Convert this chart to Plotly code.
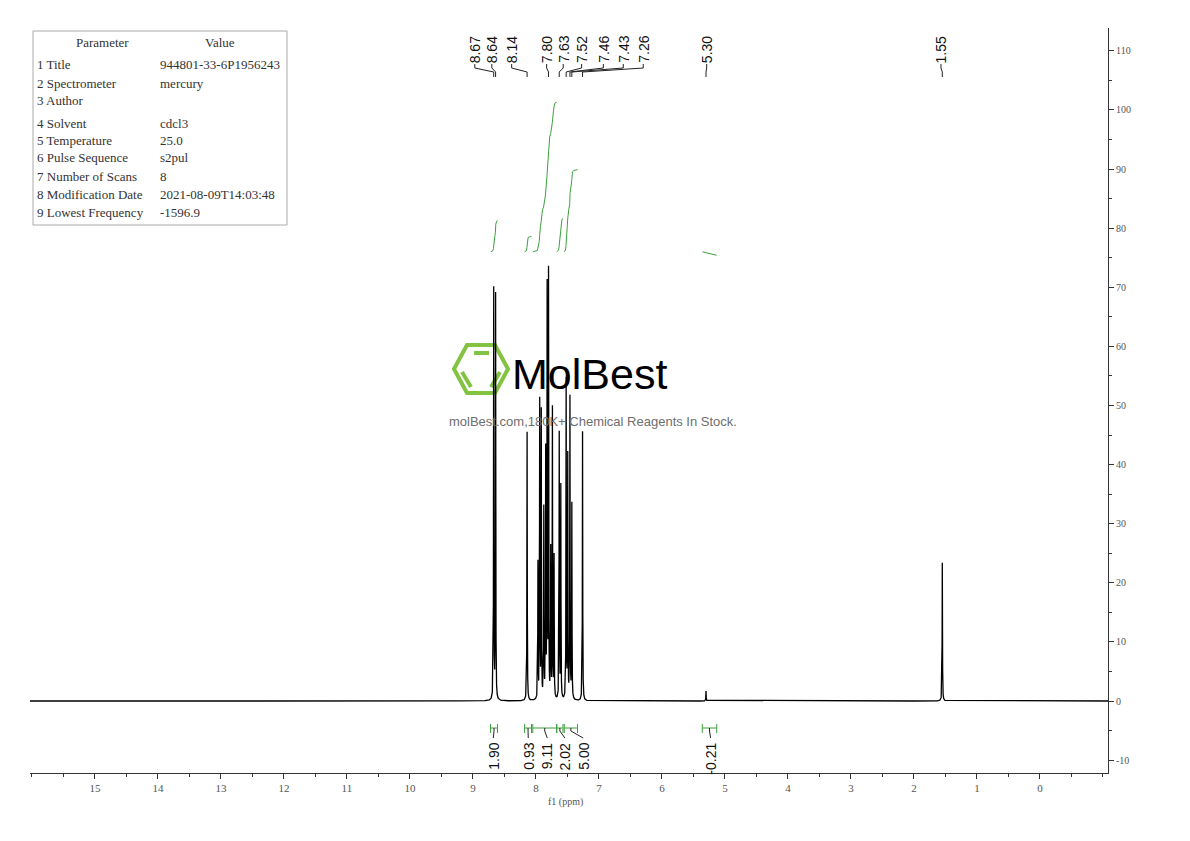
import numpy as np
import plotly.graph_objects as go

# ---------------- data ----------------
peak_ppm = [8.670, 8.640, 8.140, 7.968, 7.940, 7.915, 7.875, 7.845, 7.822, 7.800,
            7.765, 7.738, 7.712, 7.630, 7.605, 7.520, 7.495, 7.460, 7.430, 7.260,
            5.300, 1.550]
peak_height = [69.5, 68.5, 45.5, 23.0, 50.3, 48.5, 32.0, 41.5, 69.0, 71.7,
               25.0, 49.0, 24.0, 45.0, 36.0, 54.0, 41.0, 51.0, 33.0, 45.6,
               1.7, 23.4]
peak_labels = ["8.67", "8.64", "8.14", "7.80", "7.63", "7.52", "7.46", "7.43",
               "7.26", "5.30", "1.55"]
integral_start = [8.72, 8.18, 8.05, 7.67, 7.55, 5.36]
integral_end = [8.61, 8.07, 7.67, 7.57, 7.34, 5.13]
integral_values = [1.90, 0.93, 9.11, 2.02, 5.00, -0.21]
x_ticks = list(range(0, 16))
y_ticks = list(range(-10, 111, 10))
param_names = ["1 Title", "2 Spectrometer", "3 Author", "4 Solvent", "5 Temperature",
               "6 Pulse Sequence", "7 Number of Scans", "8 Modification Date",
               "9 Lowest Frequency"]
param_values = ["944801-33-6P1956243", "mercury", "", "cdcl3", "25.0", "s2pul", "8",
                "2021-08-09T14:03:48", "-1596.9"]

# ---------------- layout constants ----------------
BODY = 8                                    # page body margin of the html
W, H = 1190 - 2 * BODY, 841 - 2 * BODY
PL, PR, PT, PB = 30, 1108, 28, 773          # plot area in page pixels
X_RANGE = [16.03, -1.08]
Y_RANGE = [-12.18, 113.87]
LINE_W = 0.003                              # peak half width (ppm)
INT_BASE = 76.0                             # integral curves baseline
INT_SCALE = 2.78                            # curve height per integral unit
label_x_ppm = [8.97, 8.70, 8.385, 7.83, 7.567, 7.275, 6.93, 6.614, 6.297, 5.29, 1.571]
int_label_x_ppm = [8.677, 8.122, 7.82, 7.54, 7.25, 5.227]
row_y_px = [64.7, 83, 100.7, 123, 140.7, 158, 176.3, 194.7, 212.3]
GREEN = "rgb(60,160,60)"
SERIF = "Liberation Serif, DejaVu Serif, serif"
SANS = "Liberation Sans, Arial, sans-serif"


def px_x(px):
    return (px - PL) / (PR - PL)


def px_y(py):
    return (PB - py) / (PB - PT)


def y_of_px(py):
    return Y_RANGE[0] + (PB - py) / (PB - PT) * (Y_RANGE[1] - Y_RANGE[0])


# ---------------- spectrum ----------------
coarse = np.arange(-1.1, 16.1, 0.004)
fine = np.concatenate([np.arange(p - 0.04, p + 0.04, 0.0004) for p in peak_ppm])
x = np.unique(np.concatenate([coarse, fine, np.array(peak_ppm)]))
spec = np.zeros_like(x)
for p, h in zip(peak_ppm, peak_height):
    spec += h / (1.0 + ((x - p) / LINE_W) ** 2)

fig = go.Figure()
fig.add_trace(go.Scatter(x=x, y=spec, mode="lines",
                         line=dict(color="black", width=1.3),
                         hoverinfo="skip", showlegend=False))

# ---------------- integral curves ----------------
for s, e, v in zip(integral_start, integral_end, integral_values):
    m = (x <= s) & (x >= e)
    xs = x[m][::-1]
    ys = spec[m][::-1]
    if v > 0:
        c = np.cumsum(ys * np.abs(np.gradient(xs)))
        frac = c / c[-1]
    else:
        frac = (s - xs) / (s - e)
    fig.add_trace(go.Scatter(x=xs, y=INT_BASE + v * INT_SCALE * frac, mode="lines",
                             line=dict(color=GREEN, width=1),
                             hoverinfo="skip", showlegend=False))

shapes = []
annotations = []

# ---------------- integration brackets + labels ----------------
yb = y_of_px(728)
yc1, yc2 = y_of_px(724), y_of_px(733)
for s, e, v, lx in zip(integral_start, integral_end, integral_values, int_label_x_ppm):
    shapes.append(dict(type="line", xref="x", yref="y", x0=s, x1=e, y0=yb, y1=yb,
                       line=dict(color=GREEN, width=1)))
    for xx in (s, e):
        shapes.append(dict(type="line", xref="x", yref="y", x0=xx, x1=xx, y0=yc1, y1=yc2,
                           line=dict(color=GREEN, width=1)))
    cx = (s + e) / 2
    shapes.append(dict(type="path", xref="x", yref="y",
                       path=f"M {cx},{yb} L {cx},{y_of_px(731)} L {lx},{y_of_px(738)}",
                       line=dict(color="#222", width=1)))
    annotations.append(dict(x=lx, y=y_of_px(742), xref="x", yref="y", text=f"{v:.2f}",
                            textangle=-90, showarrow=False, xanchor="center", yanchor="top",
                            font=dict(family=SANS, size=14, color="#111"), borderpad=0))

# ---------------- peak labels ----------------
for lab, lx in zip(peak_labels, label_x_ppm):
    pk = float(lab)
    annotations.append(dict(x=lx, y=y_of_px(35), xref="x", yref="y", text=lab,
                            textangle=-90, showarrow=False, xanchor="center", yanchor="top",
                            font=dict(family=SANS, size=14, color="#111"), borderpad=0))
    shapes.append(dict(type="path", xref="x", yref="y",
                       path=(f"M {lx},{y_of_px(64)} L {lx},{y_of_px(68)} "
                             f"L {pk},{y_of_px(72)} L {pk},{y_of_px(77)}"),
                       line=dict(color="#222", width=1)))

# ---------------- parameter table ----------------
shapes.append(dict(type="rect", xref="paper", yref="paper",
                   x0=px_x(33), x1=px_x(287), y0=px_y(225), y1=px_y(31),
                   line=dict(color="#aaa", width=1), fillcolor="white"))
tfont = dict(family=SERIF, size=13, color="#333")
annotations.append(dict(x=px_x(102), y=px_y(43), xref="paper", yref="paper", text="Parameter",
                        showarrow=False, xanchor="center", yanchor="middle", font=tfont))
annotations.append(dict(x=px_x(220), y=px_y(43), xref="paper", yref="paper", text="Value",
                        showarrow=False, xanchor="center", yanchor="middle", font=tfont))
for name, val, ry in zip(param_names, param_values, row_y_px):
    annotations.append(dict(x=px_x(36), y=px_y(ry), xref="paper", yref="paper", text=name,
                            showarrow=False, xanchor="left", yanchor="middle", font=tfont,
                            borderpad=0))
    if val:
        annotations.append(dict(x=px_x(159), y=px_y(ry), xref="paper", yref="paper", text=val,
                                showarrow=False, xanchor="left", yanchor="middle", font=tfont,
                                borderpad=0))

# ---------------- watermark ----------------
hexagon = [(454, 369), (467, 345), (495, 345), (508, 369), (495, 393), (467, 393)]
hp = "M " + " L ".join(f"{px_x(a)},{px_y(b)}" for a, b in hexagon) + " Z"
LOGO_G = "rgb(130,195,65)"
shapes.append(dict(type="path", xref="paper", yref="paper", path=hp,
                   line=dict(color=LOGO_G, width=4), layer="below"))
for (a, b), (c, d) in [((474, 353), (489, 353)), ((500, 372), (491, 387)), ((462, 372), (471, 387))]:
    shapes.append(dict(type="line", xref="paper", yref="paper", x0=px_x(a), y0=px_y(b),
                       x1=px_x(c), y1=px_y(d), line=dict(color=LOGO_G, width=4), layer="below"))
annotations.append(dict(x=px_x(510), y=px_y(374), xref="paper", yref="paper", text="MolBest",
                        showarrow=False, xanchor="left", yanchor="middle",
                        font=dict(family=SANS, size=43, color="black")))
annotations.append(dict(x=px_x(593), y=px_y(421), xref="paper", yref="paper",
                        text="molBest.com,180K+ Chemical Reagents In Stock.",
                        showarrow=False, xanchor="center", yanchor="middle",
                        font=dict(family=SANS, size=13, color="#6e6e6e")))

# ---------------- axis title ----------------
annotations.append(dict(x=px_x(565), y=px_y(802), xref="paper", yref="paper", text="f1 (ppm)",
                        showarrow=False, xanchor="center", yanchor="middle",
                        font=dict(family=SERIF, size=10, color="#555")))

fig.update_layout(
    width=W, height=H,
    margin=dict(l=PL - BODY, r=W - (PR - BODY), t=PT - BODY, b=H - (PB - BODY)),
    paper_bgcolor="white", plot_bgcolor="white",
    shapes=shapes, annotations=annotations,
    xaxis=dict(range=X_RANGE, showgrid=False, zeroline=False, showline=True,
               linecolor="#333", linewidth=1, ticks="outside", ticklen=5, tickwidth=1,
               tickcolor="#333", tickmode="array", tickvals=x_ticks,
               ticktext=[str(t) for t in x_ticks],
               tickfont=dict(family=SERIF, size=11, color="#555"),
               minor=dict(tickmode="linear", tick0=0, dtick=0.5, ticks="outside",
                          ticklen=3, tickcolor="#333")),
    yaxis=dict(range=Y_RANGE, side="right", showgrid=False, zeroline=False, showline=True,
               linecolor="#333", linewidth=1, ticks="outside", ticklen=5, tickwidth=1,
               tickcolor="#333", tickmode="array", tickvals=y_ticks,
               ticktext=[str(t) for t in y_ticks],
               tickfont=dict(family=SERIF, size=10, color="#555"),
               minor=dict(tickmode="linear", tick0=0, dtick=5, ticks="outside",
                          ticklen=3, tickcolor="#333")),
)

fig.write_html("out.html")
